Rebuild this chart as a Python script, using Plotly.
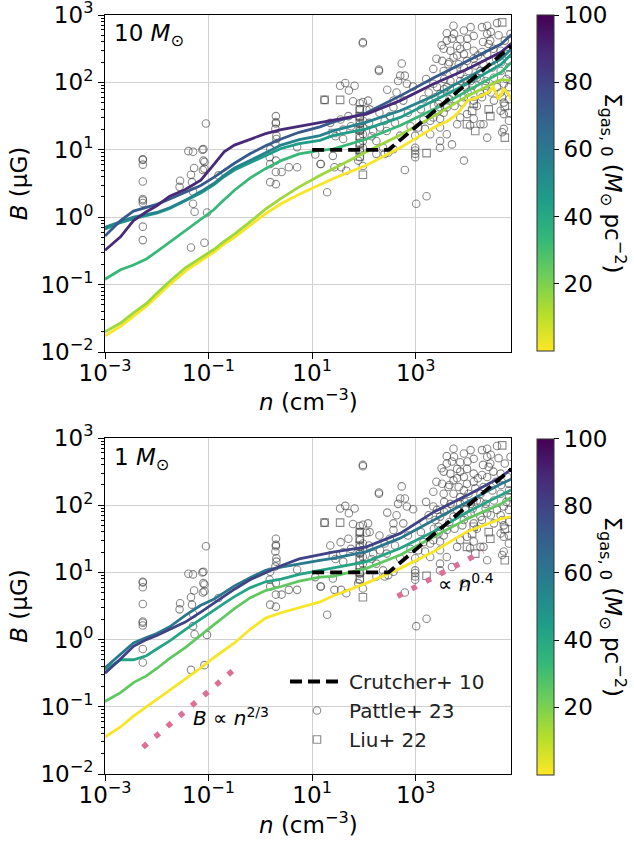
import numpy as np
import plotly.graph_objects as go
from plotly.colors import sample_colorscale

# ---------------- data (log10 values) ----------------
curve_log_n = [-3, -2.7, -2.45, -2.2, -2.0, -1.75, -1.45, -1.15, -0.9, -0.7, -0.5, -0.2,
               0.1, 0.4, 0.75, 1.15, 1.4, 2.05, 2.7, 3.35, 4.0, 4.65, 4.85]

# top panel (10 Msun)
top_sigma = [1, 15, 33, 45, 55, 72, 88]
top_yellow_log_n = [-3, -2.7, -2.45, -2.2, -2.0, -1.75, -1.45, -1.15, -0.9, -0.7, -0.5, -0.2,
                    0.1, 0.4, 0.75, 1.15, 1.4, 2.05, 2.7, 3.0, 3.35, 3.6, 3.75, 3.85, 4.0,
                    4.2, 4.4, 4.5, 4.6, 4.7, 4.8, 4.85]
top_yellow_log_B = [-1.76, -1.62, -1.47, -1.32, -1.18, -1.0, -0.80, -0.65, -0.52, -0.40, -0.30, -0.12,
                    0.05, 0.20, 0.34, 0.48, 0.57, 0.77, 1.03, 1.17, 1.33, 1.42, 1.50, 1.58, 1.73,
                    1.78, 1.85, 1.93, 1.75, 1.90, 1.82, 1.73]
top_ygreen_log_B = [-1.70, -1.57, -1.42, -1.28, -1.13, -0.95, -0.75, -0.60, -0.48, -0.36, -0.25, -0.07,
                    0.12, 0.28, 0.45, 0.62, 0.72, 0.97, 1.22, 1.50, 1.80, 2.04, 2.03]
top_green_log_B = [-0.92, -0.78, -0.71, -0.62, -0.51, -0.37, -0.21, -0.04, 0.11, 0.26, 0.40, 0.58,
                   0.72, 0.84, 0.94, 0.99, 1.01, 1.16, 1.36, 1.60, 1.88, 2.15, 2.30]
top_tealB_log_B = [-0.18, -0.08, -0.02, 0.02, 0.06, 0.13, 0.24, 0.36, 0.48, 0.60, 0.70, 0.81,
                   0.92, 1.02, 1.09, 1.14, 1.21, 1.31, 1.48, 1.73, 1.98, 2.27, 2.42]
top_tealA_log_B = [-0.15, -0.07, 0.0, 0.04, 0.07, 0.14, 0.25, 0.38, 0.50, 0.62, 0.73, 0.84,
                   0.96, 1.07, 1.15, 1.21, 1.28, 1.41, 1.58, 1.80, 2.07, 2.35, 2.50]
top_blue_log_B = [-0.28, -0.05, 0.09, 0.15, 0.19, 0.27, 0.37, 0.47, 0.59, 0.70, 0.80, 0.94,
                  1.06, 1.16, 1.26, 1.34, 1.41, 1.55, 1.80, 2.07, 2.32, 2.57, 2.71]
top_purple_log_B = [-0.49, -0.29, -0.05, 0.08, 0.17, 0.31, 0.41, 0.55, 0.78, 0.97, 1.07, 1.16,
                    1.24, 1.30, 1.35, 1.40, 1.44, 1.53, 1.73, 1.98, 2.20, 2.45, 2.58]

# bottom panel (1 Msun)
bot_sigma = [1, 25, 42, 60, 80]
bot_yellow_log_B = [-1.45, -1.30, -1.14, -1.00, -0.90, -0.76, -0.58, -0.42, -0.27, -0.16, -0.05, 0.15,
                    0.32, 0.40, 0.47, 0.56, 0.65, 0.84, 1.06, 1.31, 1.61, 1.80, 1.83]
bot_green_log_B = [-0.92, -0.79, -0.64, -0.54, -0.43, -0.28, -0.12, 0.07, 0.22, 0.34, 0.46, 0.62,
                   0.73, 0.79, 0.87, 0.93, 0.94, 1.06, 1.26, 1.53, 1.80, 2.02, 2.12]
bot_teal_log_B = [-0.45, -0.30, -0.30, -0.24, -0.14, -0.02, 0.15, 0.31, 0.44, 0.54, 0.64, 0.77,
                  0.86, 0.90, 0.97, 1.03, 1.06, 1.16, 1.36, 1.61, 1.90, 2.15, 2.23]
bot_blue_log_B = [-0.42, -0.21, -0.05, 0.03, 0.09, 0.19, 0.36, 0.51, 0.60, 0.70, 0.80, 0.92,
                  1.03, 1.08, 1.13, 1.18, 1.21, 1.31, 1.51, 1.78, 2.05, 2.32, 2.39]
bot_purple_log_B = [-0.50, -0.29, -0.10, 0.0, 0.06, 0.15, 0.26, 0.41, 0.54, 0.65, 0.75, 0.89,
                    1.00, 1.10, 1.20, 1.26, 1.30, 1.38, 1.58, 1.90, 2.15, 2.42, 2.54]

# Crutcher+10 relation
crutcher_n = [10, 300, 7.0e4]
crutcher_B = [10, 10, 345]

# reference slopes (bottom panel)
slope23_n = [0.0054, 0.41]
slope23_B = [0.025, 0.43]
slope04_n = [447, 2.0e4]
slope04_B = [4.4, 20.6]

# observations, Pattle+23 (circles)
pattle_log_n = [
    -2.27, -2.27, -2.27, -2.27, -2.27, -2.27, -2.27, -2.27, -2.27,
    -1.55, -1.56, -1.39, -1.30, -1.34, -1.28, -1.32, -1.30, -1.10, -1.12, -1.10, -1.08, -1.11,
    -1.08, -1.05, -1.03, -1.30, -1.27, -1.34, -1.08, -0.81,
    0.30, 0.30, 0.30, 0.29, 0.31, 0.31, 0.29, 0.19, 0.18, 0.19, 0.30, 0.30, 0.19, 0.30, 0.41,
    0.55, 0.71, 0.71, 1.06, 1.16, 1.29, 3.01, 3.21,
    1.98, 1.98, 2.29, 2.29, 2.73, 2.95, 1.54, 1.64, 1.71, 1.82, 1.24, 1.79, 1.98, 1.92, 2.08,
    1.92, 2.05, 2.11, 1.92, 1.92, 1.92, 1.92, 1.92, 1.92, 1.98, 1.98, 1.98, 1.98, 1.98,
    2.45, 2.57, 2.63, 2.66, 2.70, 2.76, 2.79, 2.83, 2.57, 2.50, 2.40, 2.31, 2.18, 2.44, 2.24,
    2.37, 2.40, 2.99, 2.99, 2.99, 2.99, 2.79, 3.93, 3.70, 1.60, 1.40, 1.17, 1.43, 1.56, 1.66,
    1.98, 1.92, 1.89, 2.24, 2.47, 2.57, 2.70, 2.99, 3.05, 3.18, 3.28, 3.28, 3.34, 3.47, 3.54,
    3.60, 3.47, 3.34, 3.41, 3.44, 3.44, 3.47, 3.47, 3.47, 3.60, 3.80, 3.86, 3.99, 4.05, 4.12,
    4.18, 4.25, 4.31, 4.64, 4.70, 4.70, 4.67, 4.80, 4.80, 4.38, 4.12,
    3.60, 3.73, 3.74, 3.86, 3.93, 4.06, 4.12, 4.28, 4.38, 4.38, 4.41, 4.57, 4.72, 3.60, 3.67,
    3.80, 3.86, 3.93, 3.99, 4.12, 4.28, 4.38, 4.44, 4.64, 4.77, 4.80, 4.80, 4.80, 4.80, 3.54,
    3.51, 3.54, 3.63, 3.73, 3.73, 3.83, 3.86, 3.93, 3.99, 4.02, 4.06, 4.12, 4.15, 4.18, 4.25,
    4.31, 4.35, 4.38, 4.48, 4.51, 4.57, 4.64, 4.67, 4.70, 4.83, 3.34, 3.38, 3.47, 3.60, 3.67,
    3.73, 3.80, 3.86, 3.93, 3.96, 4.06, 4.25, 4.28, 4.51, 4.64,
    1.55, 1.70, 1.75, 1.60, 1.35, 1.45, 2.10, 2.15, 2.30, 2.60, 2.85, 2.90, 3.10, 3.15, 3.20,
    3.25, 3.55, 3.65, 3.75, 3.90, 4.00, 4.10, 4.35, 4.45, 4.55, 4.65, 4.75, 4.20, 4.00, 3.80,
    3.65, 3.55, 3.40, 3.50, 3.70, 4.45, 4.60, 4.30, 4.50, 4.70, 4.80, 3.95, 4.25, 3.35, 3.15]
pattle_log_B = [
    0.86, 0.85, 0.78, 0.53, 0.27, 0.25, 0.21, -0.14, -0.34,
    0.54, 0.45, 0.98, 0.97, 0.63, 0.73, 0.52, 0.38, 1.01, 1.00, 0.84, 0.82, 0.70,
    0.72, 1.39, 0.07, 0.20, 0.08, -0.45, -0.38, 0.62,
    1.50, 1.41, 1.39, 1.31, 1.21, 1.16, 1.09, 1.01, 0.89, 0.79, 0.84, 0.67, 0.52, 0.49, 0.67,
    0.74, 0.74, 1.04, 0.93, 0.79, 0.37, 0.20, 0.31,
    2.58, 2.60, 2.17, 2.19, 2.28, 1.94, 1.95, 1.99, 1.88, 1.95, 1.74, 1.72, 1.71, 1.69, 1.73,
    1.60, 1.59, 1.60, 1.48, 1.38, 1.28, 1.18, 1.08, 0.98, 1.43, 1.33, 1.23, 1.13, 1.03,
    1.89, 1.73, 1.85, 2.02, 2.10, 1.73, 2.10, 1.98, 1.63, 1.50, 1.43, 1.33, 1.28, 1.28, 1.13,
    1.03, 0.94, 0.94, 0.89, 0.99, 1.03, 0.70, 0.84, 1.08, 1.16, 0.91, 0.79, 0.74, 0.74, 0.69,
    0.76, 0.89, 0.84, 0.94, 0.96, 1.01, 1.21, 1.21, 1.33, 1.31, 1.23, 1.43, 1.48, 1.46, 1.55,
    1.63, 1.83, 2.20, 1.93, 1.68, 1.58, 1.33, 1.13, 1.03, 1.23, 1.38, 1.48, 1.53, 1.36, 1.46,
    1.65, 1.38, 1.38, 1.58, 1.53, 1.31, 1.26, 1.55, 1.43, 1.18, 1.73,
    2.73, 2.84, 2.72, 2.64, 2.77, 2.82, 2.69, 2.82, 2.84, 2.72, 2.57, 2.88, 2.62, 2.62, 2.47,
    2.54, 2.50, 2.42, 2.54, 2.47, 2.45, 2.42, 2.62, 2.47, 2.42, 2.32, 2.22, 2.12, 1.93, 2.50,
    2.32, 2.17, 2.27, 2.37, 2.17, 2.27, 2.12, 2.22, 2.32, 2.17, 2.02, 2.35, 2.25, 2.07, 2.17,
    2.27, 2.02, 1.88, 2.22, 2.07, 1.93, 2.17, 1.78, 1.98, 2.72, 1.98, 1.78, 1.63, 1.93, 2.02,
    1.83, 1.93, 2.02, 1.78, 1.93, 1.88, 1.83, 1.78, 1.73, 1.85,
    1.45, 1.50, 1.35, 1.30, 1.40, 1.20, 1.40, 1.20, 1.55, 1.40, 1.55, 1.35, 1.60, 1.75, 2.05,
    1.85, 1.90, 1.75, 1.65, 1.70, 1.85, 1.95, 1.95, 1.85, 2.35, 2.30, 2.05, 2.40, 2.65, 2.40,
    2.30, 2.05, 2.35, 2.55, 2.65, 2.75, 2.70, 2.60, 2.50, 1.70, 1.75, 2.05, 2.05, 1.65, 1.45]

# observations, Liu+22 (squares)
liu_log_n = [1.24, 1.54, 1.98, 3.21, 3.99, 4.09, 4.41, 4.44, 4.72, 4.72, 4.67, 4.15, 4.12, 1.40,
             1.92, 1.92, 1.92, 1.92, 1.92, 1.92, 1.92, 1.92]
liu_log_B = [1.74, 1.74, 0.63, 0.95, 1.38, 1.58, 1.60, 1.50, 1.18, 1.65, 2.89, 1.28, 1.68, 1.25,
             1.60, 1.50, 1.40, 1.30, 1.20, 1.10, 1.00, 0.90]

x_tickvals = [1e-3, 1e-1, 1e1, 1e3]
x_ticktext = ["10<sup>−3</sup>", "10<sup>−1</sup>", "10<sup>1</sup>", "10<sup>3</sup>"]
y_tickvals = [1e-2, 1e-1, 1e0, 1e1, 1e2, 1e3]
y_ticktext = ["10<sup>−2</sup>", "10<sup>−1</sup>", "10<sup>0</sup>",
              "10<sup>1</sup>", "10<sup>2</sup>", "10<sup>3</sup>"]
cbar_ticks = [20, 40, 60, 80, 100]

# ---------------- figure ----------------
W, H = 634, 842
FONT = "DejaVu Sans"
fig = go.Figure()


def col(s):
    return sample_colorscale("Viridis", [1 - s / 100.0])[0]


def p10(a):
    return [10 ** v for v in a]


obs_color = "rgba(60,60,60,0.6)"


def add_obs(xa, ya, show):
    fig.add_trace(go.Scatter(x=p10(pattle_log_n), y=p10(pattle_log_B), mode="markers",
                             marker=dict(symbol="circle-open", size=7.5, color=obs_color,
                                         line=dict(width=1.1)),
                             name="Pattle+ 23", xaxis=xa, yaxis=ya, showlegend=show,
                             legendgroup="p", legendrank=2, hoverinfo="skip"))
    fig.add_trace(go.Scatter(x=p10(liu_log_n), y=p10(liu_log_B), mode="markers",
                             marker=dict(symbol="square-open", size=7.5, color=obs_color,
                                         line=dict(width=1.1)),
                             name="Liu+ 22", xaxis=xa, yaxis=ya, showlegend=show,
                             legendgroup="l", legendrank=3, hoverinfo="skip"))


# top panel
add_obs("x", "y", False)
top_curves = [(top_yellow_log_n, top_yellow_log_B), (curve_log_n, top_ygreen_log_B),
              (curve_log_n, top_green_log_B), (curve_log_n, top_tealB_log_B),
              (curve_log_n, top_tealA_log_B), (curve_log_n, top_blue_log_B),
              (curve_log_n, top_purple_log_B)]
for s, (ln, lb) in zip(top_sigma, top_curves):
    fig.add_trace(go.Scatter(x=p10(ln), y=p10(lb), mode="lines", line=dict(color=col(s), width=2.8),
                             xaxis="x", yaxis="y", showlegend=False, hoverinfo="skip"))
fig.add_trace(go.Scatter(x=crutcher_n, y=crutcher_B, mode="lines",
                         line=dict(color="black", width=3.8, dash="12px,6px"),
                         xaxis="x", yaxis="y", showlegend=False, hoverinfo="skip"))

# bottom panel
add_obs("x2", "y2", True)
bot_curves = [bot_yellow_log_B, bot_green_log_B, bot_teal_log_B, bot_blue_log_B, bot_purple_log_B]
for s, lb in zip(bot_sigma, bot_curves):
    fig.add_trace(go.Scatter(x=p10(curve_log_n), y=p10(lb), mode="lines",
                             line=dict(color=col(s), width=2.8),
                             xaxis="x2", yaxis="y2", showlegend=False, hoverinfo="skip"))
fig.add_trace(go.Scatter(x=crutcher_n, y=crutcher_B, mode="lines",
                         line=dict(color="black", width=3.8, dash="12px,6px"),
                         name="Crutcher+ 10", xaxis="x2", yaxis="y2", showlegend=True,
                         legendgroup="c", legendrank=1, hoverinfo="skip"))
pink = "#DB7093"
for xs, ys in [(slope23_n, slope23_B), (slope04_n, slope04_B)]:
    fig.add_trace(go.Scatter(x=xs, y=ys, mode="lines", line=dict(color=pink, width=5.5, dash="5.5px,10.5px"),
                             xaxis="x2", yaxis="y2", showlegend=False, hoverinfo="skip"))

# colorbar carriers
for ca, ya in [("coloraxis", "y"), ("coloraxis2", "y2")]:
    fig.add_trace(go.Scatter(x=[1e-3, 1e-3], y=[1e-2, 1e-2], mode="markers",
                             marker=dict(color=[0, 100], coloraxis=ca, size=1, opacity=0),
                             xaxis="x" if ya == "y" else "x2", yaxis=ya, showlegend=False,
                             hoverinfo="skip"))

# ---------------- layout ----------------
def px_x(p):
    return p / W


def px_y(p):
    return 1 - p / H


X0, X1 = 105, 511
TOP = (15, 352)
BOT = (438, 774)
xrange_log = [-3, 4.84]

axis_common = dict(type="log", showline=True, linecolor="black", linewidth=1, mirror=True,
                   ticks="outside", ticklen=6, tickcolor="black", showgrid=True,
                   gridcolor="#d0d0d0", gridwidth=1, zeroline=False, automargin=False,
                   ticklabeloverflow="allow",
                   tickfont=dict(family=FONT, size=23, color="black"))

minor_vals = [k * 10.0 ** d for d in range(-2, 3) for k in range(2, 10)]

xa = dict(axis_common, range=xrange_log, tickvals=x_tickvals, ticktext=x_ticktext,
          ticklabelstandoff=-6, domain=[px_x(X0), px_x(X1)])
ya = dict(axis_common, range=[-2, 3], tickvals=y_tickvals, ticktext=y_ticktext,
          minor=dict(tickvals=minor_vals, ticks="outside", ticklen=3, tickcolor="black", showgrid=False),
          title=dict(text="<i>B</i> (μG)", font=dict(family=FONT, size=23, color="black"), standoff=6))

cb_common = dict(x=px_x(537), xanchor="left", thickness=17, lenmode="fraction", len=336 / H,
                 outlinewidth=1, outlinecolor="#333333", tickvals=cbar_ticks, ticks="outside",
                 ticklen=5, tickcolor="black", xpad=0, ypad=0,
                 tickfont=dict(family=FONT, size=23, color="black"))

fig.update_layout(
    width=W, height=H, margin=dict(l=0, r=0, t=0, b=0, autoexpand=False),
    paper_bgcolor="white", plot_bgcolor="white",
    font=dict(family=FONT, color="black"),
    xaxis=dict(xa, anchor="y"),
    yaxis=dict(ya, domain=[px_y(TOP[1]), px_y(TOP[0])], anchor="x"),
    xaxis2=dict(xa, anchor="y2"),
    yaxis2=dict(ya, domain=[px_y(BOT[1]), px_y(BOT[0])], anchor="x2"),
    coloraxis=dict(colorscale="Viridis", reversescale=True, cmin=0, cmax=100,
                   colorbar=dict(cb_common, y=px_y((15 + 351) / 2), yanchor="middle")),
    coloraxis2=dict(colorscale="Viridis", reversescale=True, cmin=0, cmax=100,
                    colorbar=dict(cb_common, y=px_y((439 + 774) / 2), yanchor="middle")),
    legend=dict(x=px_x(285), y=px_y(662), xanchor="left", yanchor="top",
                bgcolor="rgba(0,0,0,0)", font=dict(family=FONT, size=20, color="#222222"),
                tracegroupgap=8, itemwidth=54, traceorder="normal"),
    showlegend=True,
)

annots = [
    dict(x=px_x(112), y=px_y(35), text="10 <i>M</i><sub>⊙</sub>", xanchor="left", yanchor="middle",
         font=dict(family=FONT, size=23, color="black")),
    dict(x=px_x(112), y=px_y(459), text="1 <i>M</i><sub>⊙</sub>", xanchor="left", yanchor="middle",
         font=dict(family=FONT, size=23, color="black")),
    dict(x=px_x(231), y=px_y(717), text="<i>B</i> ∝ <i>n</i><sup>2/3</sup>", xanchor="center",
         yanchor="middle", font=dict(family=FONT, size=20, color="black")),
    dict(x=px_x(466), y=px_y(583), text="∝ <i>n</i><sup>0.4</sup>", xanchor="center",
         yanchor="middle", font=dict(family=FONT, size=20, color="black")),
]
for cy in [400, 823]:
    annots.append(dict(x=px_x((X0 + X1) / 2), y=px_y(cy), text="<i>n</i> (cm<sup>−3</sup>)",
                       xanchor="center", yanchor="middle",
                       font=dict(family=FONT, size=23, color="black")))
for cy in [(15 + 351) / 2, (439 + 774) / 2]:
    annots.append(dict(x=px_x(613), y=px_y(cy), textangle=90,
                       text="Σ<sub>gas, 0</sub> (<i>M</i><sub>⊙</sub> pc<sup>−2</sup>)",
                       xanchor="center", yanchor="middle",
                       font=dict(family=FONT, size=23, color="black")))
for a in annots:
    a.update(xref="paper", yref="paper", showarrow=False)
fig.update_layout(annotations=annots)

fig.write_html("out.html", post_script="document.body.style.margin='0px';",
               config={"displayModeBar": False})
